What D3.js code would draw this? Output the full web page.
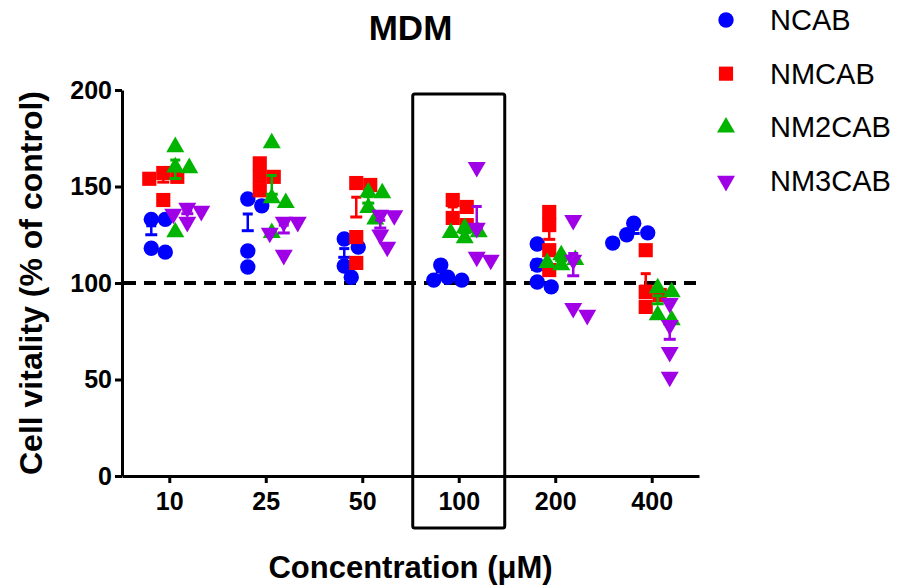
<!DOCTYPE html>
<html lang="en">
<head>
  <meta charset="utf-8" />
  <title>MDM - Cell vitality</title>
  <script src="https://d3js.org/d3.v7.min.js"></script>
  <style>
    html, body {
      margin: 0;
      padding: 0;
      background: #fff;
      overflow: hidden;
      font-family: "Liberation Sans", Arial, sans-serif;
    }
    .axis path, .axis line {
      stroke: #000;
      stroke-width: 3px;
    }
    .axis text {
      font-family: "Liberation Sans", Arial, sans-serif;
      font-weight: bold;
      font-size: 25px;
      fill: #000;
    }
  </style>
</head>
<body>
<script>
// concentrations (uM) on the x axis
const groups = ["10", "25", "50", "100", "200", "400"];
const seriesNames = ["NCAB", "NMCAB", "NM2CAB", "NM3CAB"];
const yTicks = [0, 50, 100, 150, 200];

// replicate values (% of control), one inner array per concentration
const ncab = [
  [133, 133, 116, 118],
  [143.5, 140, 116.6, 108.3],
  [122.8, 118.6, 103, 108.8],
  [103, 101.5, 109.3, 101.5],
  [120.2, 109.3, 98, 100.5],
  [126, 131, 125, 120.7]
];
const nmcab = [
  [157, 155, 154, 143],
  [162, 155, 155, 148],
  [150.8, 151.8, 123.8, 110.4],
  [139.4, 143, 133.7, 130],
  [136.8, 130, 117, 106.7],
  [117, 95.3, 93.8, 87.6]
];
const nm2cab = [
  [170.5, 160, 159.6, 126.4],
  [172.5, 144, 141.5, 126],
  [146.6, 147, 139, 133],
  [128.5, 123.3, 126.4, 126],
  [112, 110.4, 114.5, 109.3],
  [97.4, 95.3, 80.8, 83.4]
];
const nm3cab = [
  [137.3, 138.9, 135.8, 131.6],
  [131.6, 131.6, 126, 114.5],
  [135.2, 135, 125, 118.7],
  [160, 128.5, 112, 113.5],
  [132.6, 112, 83.4, 87],
  [89.6, 78.2, 64.2, 51.3]
];

const seriesValues = [ncab, nmcab, nm2cab, nm3cab];
const colors = ["#0000ff", "#ff0000", "#00b400", "#a000e6"];
const shapes = [
  { type: d3.symbolCircle, size: 185, rot: 0 },
  { type: d3.symbolSquare, size: 200, rot: 0 },
  { type: d3.symbolTriangle, size: 140, rot: 0 },
  { type: d3.symbolTriangle, size: 140, rot: 180 }
];

const width = 899, height = 588;
const svg = d3.select("body").append("svg")
  .attr("width", width)
  .attr("height", height);

// scales
const x = d3.scalePoint().domain(groups).range([122, 699]).padding(0.49);
const inner = d3.scalePoint().domain(seriesNames).range([-18, 18]);
const y = d3.scaleLinear().domain([0, 200]).range([476, 90]);

// axes
const xAxis = svg.append("g")
  .attr("class", "axis")
  .attr("transform", `translate(0,${y(0)})`)
  .call(d3.axisBottom(x).tickSize(7).tickSizeOuter(0).tickPadding(8));
xAxis.selectAll("text").attr("dy", "0.75em");

const yAxis = svg.append("g")
  .attr("class", "axis")
  .attr("transform", `translate(${x.range()[0]},0)`)
  .call(d3.axisLeft(y).tickValues(yTicks).tickSize(7).tickSizeOuter(0).tickPadding(3));

// dashed control line at 100 %
svg.append("line")
  .attr("x1", x.range()[0] + 2).attr("x2", x.range()[1])
  .attr("y1", y(100)).attr("y2", y(100))
  .attr("stroke", "#000")
  .attr("stroke-width", 4)
  .attr("stroke-dasharray", "12,8");

// highlight box round the 100 uM column
svg.append("rect")
  .attr("x", x("100") - 46)
  .attr("y", 94)
  .attr("width", 92)
  .attr("height", 434)
  .attr("rx", 2)
  .attr("fill", "none")
  .attr("stroke", "#000")
  .attr("stroke-width", 3);

// spread overlapping points sideways (simple greedy dodge)
function dodge(vals) {
  const order = vals.map((v, i) => i).sort((a, b) => vals[b] - vals[a]);
  const placed = [];
  const off = new Array(vals.length).fill(0);
  const cands = [0, 7, -7, 14, -14, 21, -21];
  order.forEach(i => {
    const py = y(vals[i]);
    for (const c of cands) {
      const ok = placed.every(p => Math.hypot(p.dx - c, p.py - py) >= 13);
      if (ok) { off[i] = c; break; }
    }
    placed.push({ dx: off[i], py: py });
  });
  return off;
}

const symbolPath = (s) => d3.symbol(s.type, s.size)();

seriesValues.forEach((series, si) => {
  const g = svg.append("g");
  const col = colors[si];
  series.forEach((vals, gi) => {
    const cx = x(groups[gi]) + inner(seriesNames[si]);
    const mean = d3.mean(vals);
    const sem = d3.deviation(vals) / Math.sqrt(vals.length);

    // mean line and SEM bar (upper)
    g.append("line")
      .attr("x1", cx - 6).attr("x2", cx + 6)
      .attr("y1", y(mean)).attr("y2", y(mean))
      .attr("stroke", col).attr("stroke-width", 3);
    g.append("line")
      .attr("x1", cx).attr("x2", cx)
      .attr("y1", y(mean)).attr("y2", y(mean + sem))
      .attr("stroke", col).attr("stroke-width", 2.5);
    g.append("line")
      .attr("x1", cx - 5).attr("x2", cx + 5)
      .attr("y1", y(mean + sem)).attr("y2", y(mean + sem))
      .attr("stroke", col).attr("stroke-width", 3);

    const offs = dodge(vals);
    g.selectAll(null)
      .data(vals)
      .enter().append("path")
      .attr("d", symbolPath(shapes[si]))
      .attr("fill", col)
      .attr("transform", (d, i) =>
        `translate(${cx + offs[i]},${y(d)}) rotate(${shapes[si].rot})`);
  });
});

// title
svg.append("text")
  .attr("x", (x.range()[0] + x.range()[1]) / 2)
  .attr("y", 40)
  .attr("text-anchor", "middle")
  .style("font-weight", "bold")
  .style("font-size", "35px")
  .text("MDM");

// axis titles
svg.append("text")
  .attr("x", (x.range()[0] + x.range()[1]) / 2)
  .attr("y", 578)
  .attr("text-anchor", "middle")
  .style("font-weight", "bold")
  .style("font-size", "31px")
  .text("Concentration (\u03bcM)");

svg.append("text")
  .attr("transform", `translate(42,${y(100)}) rotate(-90)`)
  .attr("text-anchor", "middle")
  .style("font-weight", "bold")
  .style("font-size", "32px")
  .text("Cell vitality (% of control)");

// legend
const legendY = d3.scalePoint().domain(seriesNames).range([20, 181]);
const legend = svg.append("g");
seriesNames.forEach((name, si) => {
  legend.append("path")
    .attr("d", symbolPath(shapes[si]))
    .attr("fill", colors[si])
    .attr("transform", `translate(726,${legendY(name)}) rotate(${shapes[si].rot})`);
  legend.append("text")
    .attr("x", 770)
    .attr("y", legendY(name) + 10)
    .style("font-size", "29px")
    .text(name);
});
</script>
</body>
</html>
